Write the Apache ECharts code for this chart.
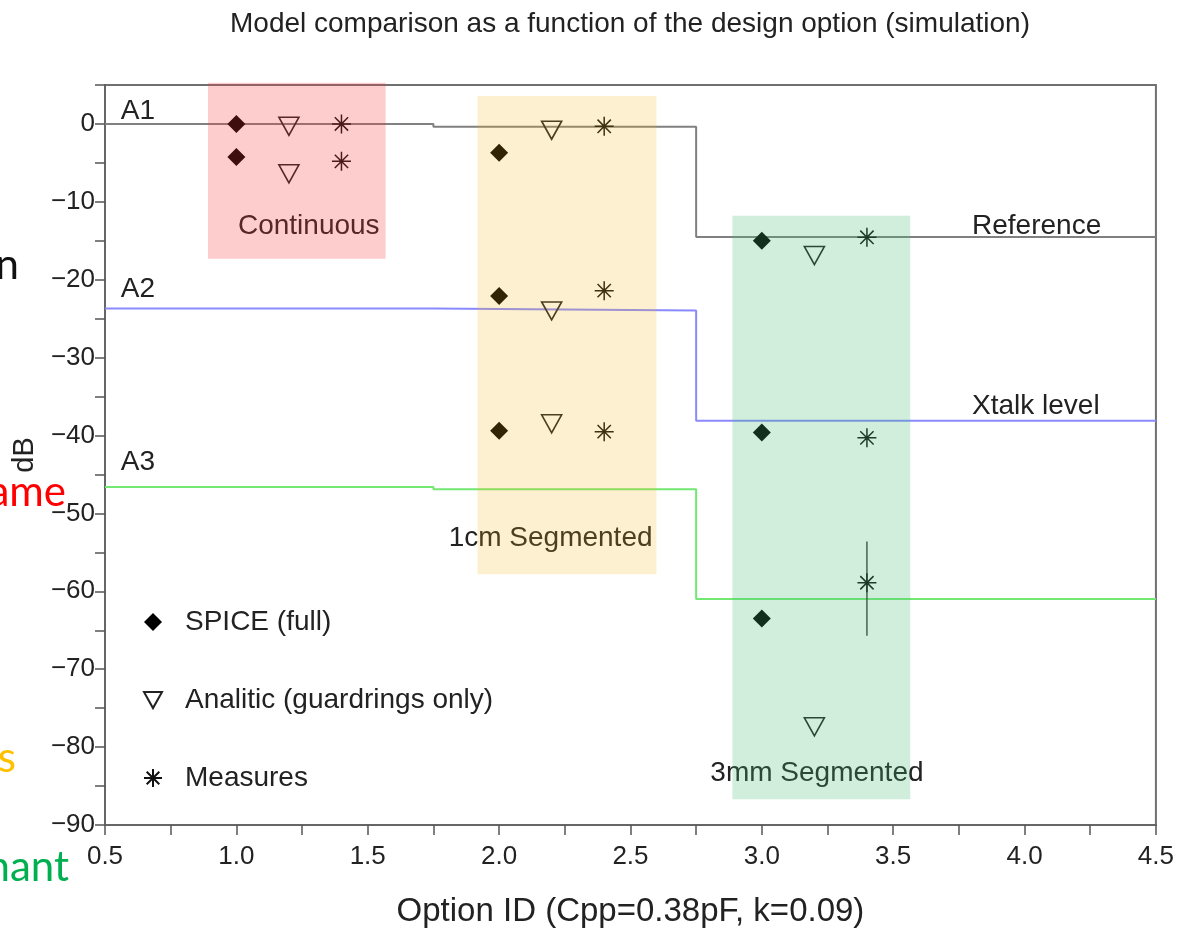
<!DOCTYPE html>
<html>
<head>
<meta charset="utf-8">
<script src="https://cdn.jsdelivr.net/npm/echarts@6/dist/echarts.min.js"></script>
<style>
  html, body { margin: 0; padding: 0; background: #ffffff; }
  #chart { width: 1177px; height: 933px; }
</style>
</head>
<body>
<div id="chart"></div>
<script>
// ---- step levels (dB) between option breakpoints ----
const stepX = [0.5, 1.75, 2.75, 4.5];
const referenceLevel = [0, -0.35, -14.5, -14.5];
const xtalkLevel = [-23.7, -23.95, -38.1, -38.1];
const a3Level = [-46.6, -46.9, -61.0, -61.0];

// ---- model results (option id, dB) ----
const spiceX = [1.0, 1.0, 2.0, 2.0, 2.0, 3.0, 3.0, 3.0];
const spiceDb = [0, -4.25, -3.7, -22.1, -39.4, -15.0, -39.6, -63.5];
const analiticX = [1.2, 1.2, 2.2, 2.2, 2.2, 3.2, 3.2];
const analiticDb = [-0.3, -6.4, -0.8, -24.0, -38.5, -16.9, -77.4];
const measuresX = [1.4, 1.4, 2.4, 2.4, 2.4, 3.4, 3.4, 3.4];
const measuresDb = [0, -4.8, -0.3, -21.4, -39.5, -14.55, -40.3, -58.9];

// spread of the deepest measured point
const spreadX = 3.4;
const spreadDb = [-53.6, -65.7];

// ---- design option groups ----
const groupNames = ['Continuous', '1cm Segmented', '3mm Segmented'];
const groupFrom = [0.892, 1.918, 2.888];
const groupTo = [1.568, 2.599, 3.565];
const groupTopDb = [5.3, 3.6, -11.8];
const groupBottomDb = [-17.3, -57.8, -86.7];

// ---- tick labels ----
const xTickLabels = ['0.5', '1.0', '1.5', '2.0', '2.5', '3.0', '3.5', '4.0', '4.5'];
const yTickLabels = ['0', '\u221210', '\u221220', '\u221230', '\u221240', '\u221250', '\u221260', '\u221270', '\u221280', '\u221290'];

const levelTags = ['A1', 'A2', 'A3'];
const levelNames = ['Reference', 'Xtalk level'];

const FONT = '"Liberation Sans", Arial, Helvetica, sans-serif';
const SLIDE_FONT = '42px Lato, "Open Sans", sans-serif';
const TXT = '#222222';

// where the annotations sit, in axis units
const levelTagPos = [[0.56, 1.6], [0.56, -21.2], [0.56, -43.4]];
const levelNamePos = [[3.80, -13.2], [3.80, -36.3]];
const groupNamePos = [[1.006, -13.2], [1.808, -53.2], [2.804, -83.3]];

const zip = (xs, ys) => xs.map((x, i) => [x, ys[i]]);

function textSeries(texts, positions, z) {
  return {
    type: 'custom',
    coordinateSystem: 'cartesian2d',
    z: z,
    silent: true,
    clip: false,
    data: positions,
    renderItem: function (params, api) {
      const p = api.coord([api.value(0), api.value(1)]);
      return {
        type: 'text',
        x: p[0],
        y: p[1],
        style: {
          text: texts[params.dataIndex],
          fill: TXT,
          font: '28px ' + FONT,
          align: 'left',
          verticalAlign: 'middle'
        }
      };
    }
  };
}

const groupFill = ['rgba(247,55,55,0.25)', 'rgba(245,180,20,0.2)', 'rgba(71,187,119,0.25)'];

const chart = echarts.init(document.getElementById('chart'));

const asterisk = 'path://M10,0 L10,20 M0,10 L20,10 M3,3 L17,17 M3,17 L17,3';
const downTriangle = 'path://M0,0 L20,0 L10,18 Z';

chart.setOption({
  animation: false,
  backgroundColor: '#ffffff',
  grid: {
    left: 105, right: 20, top: 85, bottom: 106,
    show: true, borderColor: '#707070', borderWidth: 2
  },
  legend: {
    orient: 'vertical',
    left: 138,
    top: 602,
    itemWidth: 18,
    itemHeight: 18,
    itemGap: 48,
    selectedMode: false,
    data: ['SPICE (full)', 'Analitic (guardrings only)', 'Measures'],
    textStyle: { fontSize: 28, fontFamily: FONT, color: TXT, lineHeight: 30, padding: [0, 0, 0, 18] }
  },
  graphic: [
    {
      type: 'text', x: 630, y: 24,
      style: { text: 'Model comparison as a function of the design option (simulation)', font: '28px ' + FONT, fill: TXT, align: 'center', verticalAlign: 'middle' }
    },
    { type: 'text', x: 19, y: 286, style: { text: 'n', font: SLIDE_FONT, fill: '#111111', align: 'right', verticalAlign: 'bottom' } },
    { type: 'text', x: 66, y: 513, style: { text: 'ame', font: SLIDE_FONT, fill: '#ff0000', align: 'right', verticalAlign: 'bottom' } },
    { type: 'text', x: 16, y: 779, style: { text: 's', font: SLIDE_FONT, fill: '#ffc000', align: 'right', verticalAlign: 'bottom' } },
    { type: 'text', x: 69, y: 888, style: { text: 'nant', font: SLIDE_FONT, fill: '#00b050', align: 'right', verticalAlign: 'bottom' } }
  ],
  xAxis: {
    type: 'value',
    min: 0.5, max: 4.5, interval: 0.25,
    name: 'Option ID (Cpp=0.38pF, k=0.09)',
    nameLocation: 'middle',
    nameGap: 70,
    nameTextStyle: { fontSize: 33, fontFamily: FONT, color: TXT },
    axisLine: { onZero: false, lineStyle: { color: '#666666', width: 2 } },
    axisTick: { length: 10, lineStyle: { color: '#555555', width: 1.5 } },
    axisLabel: {
      fontSize: 26, fontFamily: FONT, color: TXT, margin: 19,
      formatter: function (v) {
        const k = Math.round((v - 0.5) * 2);
        return Math.abs((v - 0.5) * 2 - k) < 1e-6 && xTickLabels[k] !== undefined ? xTickLabels[k] : '';
      }
    },
    splitLine: { show: false }
  },
  yAxis: {
    type: 'value',
    min: -90, max: 5, interval: 5,
    name: 'dB',
    nameLocation: 'middle',
    nameGap: 64,
    nameTextStyle: { fontSize: 29, fontFamily: FONT, color: TXT },
    axisLine: { onZero: false, lineStyle: { color: '#666666', width: 2 } },
    axisTick: { length: 10, lineStyle: { color: '#555555', width: 1.5 } },
    axisLabel: {
      fontSize: 26, fontFamily: FONT, color: TXT, margin: 10,
      formatter: function (v) {
        const k = Math.round(-v / 10);
        return Math.abs(-v / 10 - k) < 1e-6 && yTickLabels[k] !== undefined ? yTickLabels[k] : '';
      }
    },
    splitLine: { show: false }
  },
  series: [
    {
      type: 'line', step: 'end', data: zip(stepX, referenceLevel), symbol: 'none', z: 2, silent: true,
      lineStyle: { color: '#808080', width: 2 }
    },
    {
      type: 'line', step: 'end', data: zip(stepX, xtalkLevel), symbol: 'none', z: 2, silent: true,
      lineStyle: { color: '#8a8aff', width: 2 }
    },
    {
      type: 'line', step: 'end', data: zip(stepX, a3Level), symbol: 'none', z: 2, silent: true,
      lineStyle: { color: '#72e872', width: 2 }
    },
    {
      type: 'line', data: [[spreadX, spreadDb[0]], [spreadX, spreadDb[1]]], symbol: 'none', z: 3, silent: true,
      lineStyle: { color: '#444444', width: 1.5 }
    },
    {
      name: 'SPICE (full)', type: 'scatter', z: 4, silent: true,
      data: zip(spiceX, spiceDb),
      symbol: 'diamond', symbolSize: [18, 18],
      itemStyle: { color: '#000000', opacity: 1 }
    },
    {
      name: 'Analitic (guardrings only)', type: 'scatter', z: 4, silent: true,
      data: zip(analiticX, analiticDb),
      symbol: downTriangle, symbolSize: [20, 18],
      itemStyle: { color: 'rgba(255,255,255,0)', borderColor: '#222222', borderWidth: 1.6, opacity: 1 }
    },
    {
      name: 'Measures', type: 'scatter', z: 4, silent: true,
      data: zip(measuresX, measuresDb),
      symbol: asterisk, symbolSize: [19, 19],
      itemStyle: { color: '#111111', borderColor: '#111111', borderWidth: 1.5, opacity: 1 }
    },
    textSeries(levelTags, levelTagPos, 3),
    textSeries(levelNames, levelNamePos, 3),
    textSeries(groupNames, groupNamePos, 3),
    {
      type: 'custom', coordinateSystem: 'cartesian2d', z: 10, silent: true, clip: false,
      data: groupNames.map((n, i) => [groupFrom[i], groupTopDb[i], groupTo[i], groupBottomDb[i]]),
      renderItem: function (params, api) {
        const a = api.coord([api.value(0), api.value(1)]);
        const b = api.coord([api.value(2), api.value(3)]);
        return {
          type: 'rect',
          shape: { x: a[0], y: a[1], width: b[0] - a[0], height: b[1] - a[1] },
          style: { fill: groupFill[params.dataIndex] }
        };
      }
    }
  ]
});
</script>
</body>
</html>
